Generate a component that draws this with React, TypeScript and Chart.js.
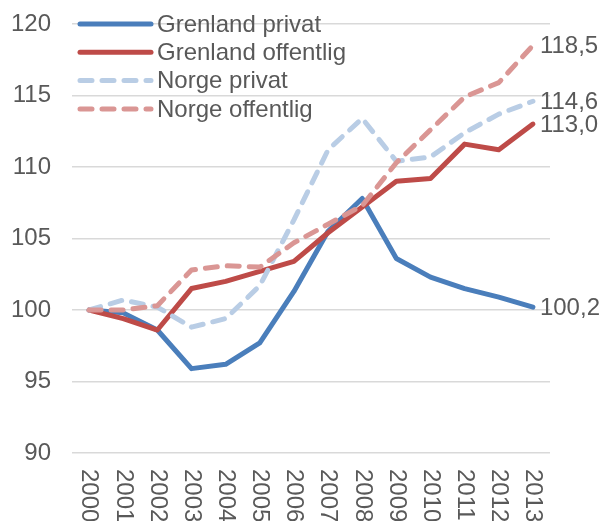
import React, { useEffect, useRef } from "react";
import { Chart, registerables } from "chart.js";

Chart.register(...registerables);

const years = ["2000","2001","2002","2003","2004","2005","2006","2007","2008","2009","2010","2011","2012","2013"];
const grenlandPrivat = [100, 99.8, 98.6, 95.9, 96.2, 97.7, 101.3, 105.5, 107.8, 103.6, 102.3, 101.5, 100.9, 100.2];
const grenlandOffentlig = [100, 99.4, 98.6, 101.5, 102.0, 102.7, 103.4, 105.4, 107.2, 109.0, 109.2, 111.6, 111.2, 113.0];
const norgePrivat = [100, 100.7, 100.2, 98.8, 99.4, 101.7, 106.3, 111.2, 113.4, 110.4, 110.7, 112.4, 113.7, 114.6];
const norgeOffentlig = [100, 100.0, 100.3, 102.8, 103.1, 103.0, 104.7, 106.0, 107.3, 110.3, 112.6, 114.9, 115.9, 118.5];
const seriesNames = ["Grenland privat", "Grenland offentlig", "Norge privat", "Norge offentlig"];
const yMin = 90;
const yMax = 120;
const yStep = 5;

const FAMILY = "'Liberation Sans', Arial, sans-serif";
const FONT = "24px " + FAMILY;
const TEXT = "#595959";

const overlayPlugin = {
  id: "overlay",
  afterDraw(chart: any) {
    const ctx = chart.ctx;
    const area = chart.chartArea;
    const xScale = chart.scales.x;
    ctx.save();
    ctx.font = FONT;
    ctx.fillStyle = TEXT;
    // rotated x labels (clockwise)
    years.forEach((lab, i) => {
      const x = xScale.getPixelForTick(i);
      ctx.save();
      ctx.translate(x, area.bottom + 16);
      ctx.rotate(Math.PI / 2);
      ctx.textAlign = "left";
      ctx.textBaseline = "middle";
      ctx.fillText(lab, 0, 0);
      ctx.restore();
    });
    // end labels
    chart.data.datasets.forEach((ds: any, i: number) => {
      const meta = chart.getDatasetMeta(i);
      const pts = meta.data;
      const p = pts[pts.length - 1];
      const v = ds.data[ds.data.length - 1];
      ctx.textAlign = "left";
      ctx.textBaseline = "middle";
      ctx.fillStyle = TEXT;
      ctx.fillText(v.toFixed(1).replace(".", ","), p.x + 7, p.y + 1);
    });
    // legend
    chart.data.datasets.forEach((ds: any, i: number) => {
      const y = area.top + i * 28.3;
      ctx.save();
      ctx.strokeStyle = ds.borderColor;
      ctx.lineWidth = ds.borderWidth;
      ctx.lineCap = "round";
      ctx.setLineDash(ds.borderDash || []);
      ctx.beginPath();
      ctx.moveTo(area.left + 8, y);
      ctx.lineTo(area.left + 79, y);
      ctx.stroke();
      ctx.restore();
      ctx.textAlign = "left";
      ctx.textBaseline = "middle";
      ctx.fillStyle = TEXT;
      ctx.fillText(ds.label, area.left + 85, y + 1);
    });
    ctx.restore();
  },
};

export default function App() {
  const ref = useRef<HTMLCanvasElement>(null);
  useEffect(() => {
    document.body.style.margin = "0";
    const mk = (label: string, data: number[], color: string, dashed: boolean, order: number) => ({
      label,
      data,
      borderColor: color,
      backgroundColor: color,
      borderWidth: 5,
      borderDash: dashed ? [12, 10] : [],
      borderCapStyle: "round" as const,
      borderJoinStyle: "round" as const,
      pointRadius: 0,
      tension: 0,
      fill: false,
      order,
    });
    const chart = new Chart(ref.current!, {
      type: "line",
      data: {
        labels: years,
        datasets: [
          mk(seriesNames[0], grenlandPrivat, "#4A7EBB", false, 3),
          mk(seriesNames[1], grenlandOffentlig, "#BE4B48", false, 2),
          mk(seriesNames[2], norgePrivat, "#B9CDE5", true, 1),
          mk(seriesNames[3], norgeOffentlig, "#DA9694", true, 0),
        ],
      },
      options: {
        animation: false,
        responsive: false,
        maintainAspectRatio: false,
        layout: { padding: { top: 24, right: 54, bottom: 0, left: 0 } },
        plugins: { legend: { display: false }, tooltip: { enabled: false } },
        scales: {
          x: {
            offset: true,
            grid: { display: false },
            border: { display: false },
            ticks: { display: false },
            afterFit: (s: any) => { s.height = 68; s.paddingLeft = 0; s.paddingRight = 0; },
          },
          y: {
            min: yMin,
            max: yMax,
            border: { display: false },
            grid: { color: "#D9D9D9", lineWidth: 1.5, drawTicks: false },
            ticks: {
              stepSize: yStep,
              padding: 21,
              color: TEXT,
              font: { family: FAMILY, size: 24 },
            },
            afterFit: (s: any) => { s.width = 72; s.paddingTop = 0; s.paddingBottom = 0; },
          },
        },
      },
      plugins: [overlayPlugin],
    });
    return () => chart.destroy();
  }, []);
  return (
    <div style={{ position: "fixed", left: 0, top: 0, width: 604, height: 521, background: "#fff" }}>
      <canvas ref={ref} width={604} height={521} style={{ display: "block" }} />
    </div>
  );
}
